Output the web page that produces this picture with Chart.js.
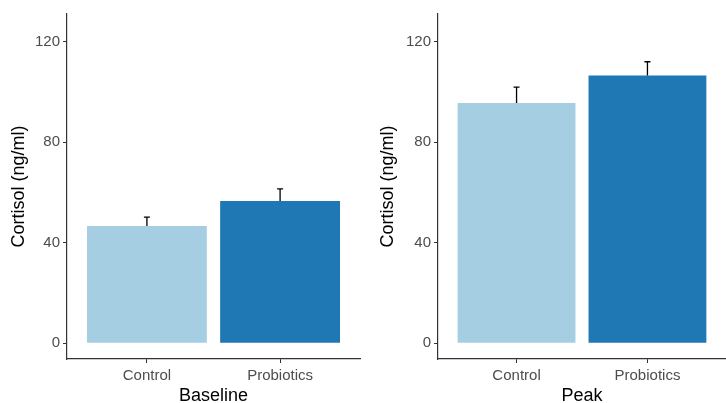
<!DOCTYPE html>
<html>
<head>
<meta charset="utf-8">
<script src="https://cdn.jsdelivr.net/npm/chart.js@4/dist/chart.umd.min.js"></script>
<style>
  html, body { margin: 0; padding: 0; background: #fff; }
  #wrap { position: relative; width: 726px; height: 403px; }
  canvas { position: absolute; top: 0; }
</style>
</head>
<body>
<div id="wrap">
  <canvas id="baseline" width="363" height="403" style="left:0"></canvas>
  <canvas id="peak" width="363" height="403" style="left:363px"></canvas>
</div>
<script>
// data
var groups = ['Control', 'Probiotics'];
var baselineMean = [46.6, 56.6];
var baselineSE = [3.6, 4.8];
var peakMean = [95.6, 106.5];
var peakSE = [6.3, 5.5];
var yTicks = [0, 40, 80, 120];
var barColors = ['#A6CEE3', '#1F78B4'];

var fontFamily = '"Liberation Sans", Arial, sans-serif';
var axisColor = '#333333';
var tickTextColor = '#4D4D4D';

// simple error bars: mean -> mean + se, with a small cap
var errorBars = {
  id: 'errorBars',
  afterDatasetsDraw: function(chart, args, opts) {
    var ctx = chart.ctx;
    var xs = chart.scales.x, ys = chart.scales.y;
    ctx.save();
    ctx.strokeStyle = '#000';
    ctx.lineWidth = 1.3;
    opts.means.forEach(function(m, i) {
      var x = xs.getPixelForValue(i + 1);
      var y0 = ys.getPixelForValue(m);
      var y1 = ys.getPixelForValue(m + opts.se[i]);
      ctx.beginPath();
      ctx.moveTo(x, y0);
      ctx.lineTo(x, y1);
      ctx.moveTo(x - 3, y1);
      ctx.lineTo(x + 3, y1);
      ctx.stroke();
    });
    ctx.restore();
  }
};

function makePanel(id, xTitle, means, se, yWidth, rightPad, yTitlePad) {
  var ctx = document.getElementById(id).getContext('2d');
  return new Chart(ctx, {
    type: 'bar',
    data: {
      datasets: [{
        data: means.map(function(v, i) { return { x: i + 1, y: v }; }),
        backgroundColor: barColors,
        borderWidth: 0,
        categoryPercentage: 0.9,
        barPercentage: 1
      }]
    },
    options: {
      responsive: false,
      animation: false,
      layout: { padding: { top: 14, right: rightPad, bottom: 0, left: 0 } },
      plugins: {
        legend: { display: false },
        tooltip: { enabled: false },
        errorBars: { means: means, se: se }
      },
      scales: {
        x: {
          type: 'linear',
          min: 0.4,
          max: 2.6,
          offset: false,
          afterBuildTicks: function(s) {
            s.ticks = groups.map(function(g, i) { return { value: i + 1 }; });
          },
          afterFit: function(s) { s.height = 44; },
          grid: { offset: false, drawOnChartArea: false, drawTicks: true, tickLength: 4, color: axisColor },
          border: { display: true, color: axisColor, width: 1.2 },
          ticks: {
            autoSkip: false, maxRotation: 0, padding: 4,
            color: tickTextColor,
            font: { family: fontFamily, size: 15 },
            callback: function(v) { return groups[v - 1]; }
          },
          title: {
            display: true, text: xTitle, color: '#000',
            font: { family: fontFamily, size: 18, lineHeight: 0.8 },
            padding: { top: 0, bottom: 0 }
          }
        },
        y: {
          min: -6.3,
          max: 131,
          afterBuildTicks: function(s) {
            s.ticks = yTicks.map(function(v) { return { value: v }; });
          },
          afterFit: function(s) { s.width = yWidth; },
          grid: { drawOnChartArea: false, drawTicks: true, tickLength: 4, color: axisColor },
          border: { display: true, color: axisColor, width: 1.2 },
          ticks: {
            padding: 3,
            color: tickTextColor,
            font: { family: fontFamily, size: 15 }
          },
          title: {
            display: true, text: 'Cortisol (ng/ml)', color: '#000',
            font: { family: fontFamily, size: 18, lineHeight: 1 },
            padding: { top: yTitlePad, bottom: 0 }
          }
        }
      }
    },
    plugins: [errorBars]
  });
}

makePanel('baseline', 'Baseline', baselineMean, baselineSE, 67, 3, 10);
makePanel('peak', 'Peak', peakMean, peakSE, 75, 0, 16);
</script>
</body>
</html>
